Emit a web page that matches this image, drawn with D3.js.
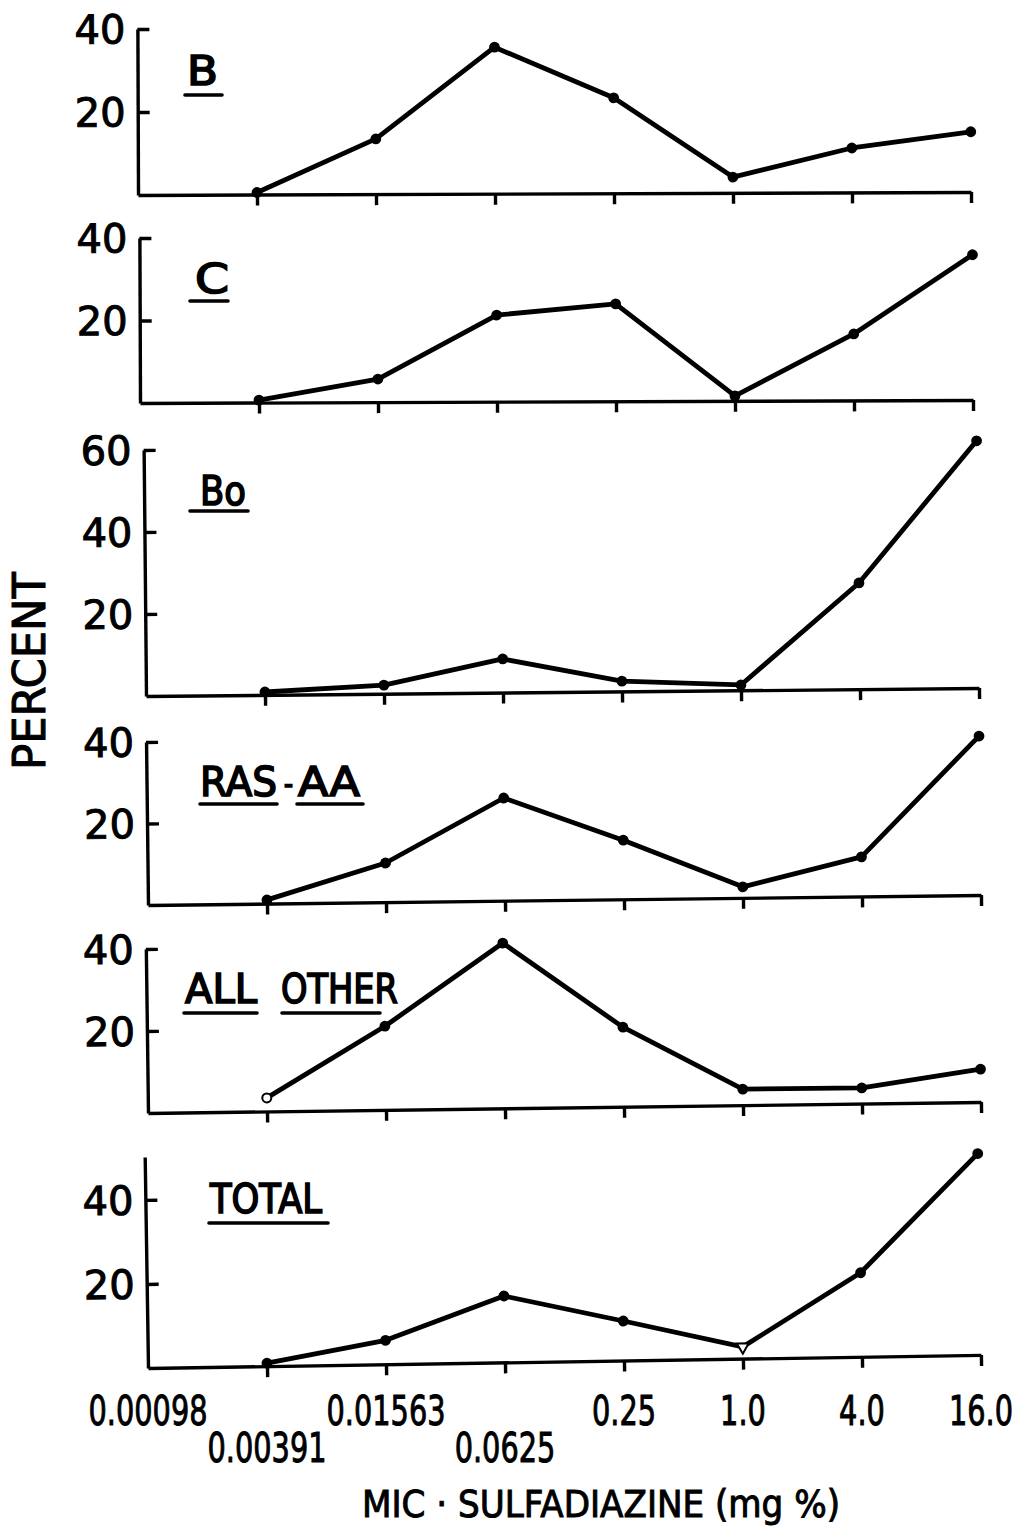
<!DOCTYPE html>
<html>
<head>
<meta charset="utf-8">
<script src="https://cdn.jsdelivr.net/npm/d3@7"></script>
<style>
  html, body { margin: 0; padding: 0; background: #fff; }
  svg { display: block; }
  text { font-family: "DejaVu Sans", sans-serif; fill: #000; }
  .thick { stroke: #000; stroke-width: 1; }
  .title { stroke: #000; stroke-width: 1.7; }
</style>
</head>
<body>
<svg id="chart" width="1034" height="1533"></svg>
<script>
// ---------------- data ----------------
const categories = ["0.00098", "0.00391", "0.01563", "0.0625", "0.25", "1.0", "4.0", "16.0"];
const tickRow    = [0, 1, 0, 1, 0, 0, 0, 0];   // which label line each x tick label sits on

const panelNames = ["B", "C", "Bo", "RAS - AA", "ALL OTHER", "TOTAL"];
const seriesB      = [null, 0.5, 13.3, 35.3, 23.0, 3.8, 10.7, 14.5];
const seriesC      = [null, 0.6,  5.6, 21.0, 23.6, 1.2, 16.1, 35.2];
const seriesBo     = [null, 0.7,  2.1,  8.2,  2.5, 1.3, 25.9, 60.3];
const seriesRASAA  = [null, 0.9,  9.6, 25.2, 14.5, 2.7,  9.7, 39.0];
const seriesOther  = [null, 3.3, 20.4, 40.3, 19.4, 3.9,  3.8,  8.0];
const seriesTotal  = [null, 0.7,  5.7, 15.8,  9.4, 2.8, 20.0, 47.9];
const seriesList = [seriesB, seriesC, seriesBo, seriesRASAA, seriesOther, seriesTotal];

const yTicksList = [[20, 40], [20, 40], [20, 40, 60], [20, 40], [20, 40], [20, 40]];
const yMaxList   = [40, 40, 60, 40, 40, 50.2];

const xTitle = "MIC \u00B7 SULFADIAZINE (mg %)";
const yTitle = "PERCENT";

// ---------------- layout (positions / styles only) ----------------
const plotW = 833;
const panelLayout = [
  { ax: 138, base: 195,  deg: 0.21, h: 166 },
  { ax: 140, base: 403,  deg: 0.21, h: 165 },
  { ax: 146, base: 696,  deg: 0.55, h: 246 },
  { ax: 148, base: 905,  deg: 0.69, h: 163 },
  { ax: 148, base: 1113, deg: 0.76, h: 164 },
  { ax: 148, base: 1368, deg: 0.90, h: 211 }
];
// panel titles: word pieces (split from panelNames) with position/width, underline extent
const titleLayout = [
  { y: 85,   ul: 95,   pieces: [{ x: 187, w: 31, u: [185, 222] }] },
  { y: 293,  ul: 301,  pieces: [{ x: 195, w: 34, u: [190, 228] }] },
  { y: 505,  ul: 511,  pieces: [{ x: 200, w: 46, u: [190, 248] }] },
  { y: 796,  ul: 804,  pieces: [{ x: 200, w: 77, u: [200, 277] },
                                { x: 284, w: 9, u: null, fs: 28, dy: -2 },
                                { x: 298, w: 62, u: [297, 363] }] },
  { y: 1003, ul: 1013, pieces: [{ x: 185, w: 72, u: [184, 257] },
                                { x: 281, w: 117, u: [282, 380] }] },
  { y: 1213, ul: 1223, pieces: [{ x: 210, w: 112, u: [209, 328] }] }
];
// special marker styles (panel index, point index, kind)
const specialMarkers = [
  { p: 4, i: 1, kind: "opencircle" },
  { p: 5, i: 5, kind: "opentriangle" }
];

const svg = d3.select("#chart");
const x = d3.scalePoint().domain(categories).range([0, plotW]);

panelLayout.forEach((L, p) => {
  const g = svg.append("g")
    .attr("transform", `translate(${L.ax},${L.base}) rotate(${-L.deg})`);
  const y = d3.scaleLinear().domain([0, yMaxList[p]]).range([0, -L.h]);

  // x axis: baseline with downward ticks
  const xa = g.append("g")
    .call(d3.axisBottom(x).tickValues(categories.slice(1)).tickSize(11)
      .tickSizeOuter(0).tickFormat(""));
  xa.select(".domain").attr("stroke", "#000").attr("stroke-width", 3.4);
  xa.selectAll(".tick line").attr("stroke", "#000").attr("stroke-width", 3.4);

  // y axis: vertical with inward ticks
  const ya = g.append("g")
    .call(d3.axisRight(y).tickValues(yTicksList[p]).tickSize(12)
      .tickSizeOuter(0).tickFormat(""));
  ya.select(".domain").attr("stroke", "#000").attr("stroke-width", 3.4);
  ya.selectAll(".tick line").attr("stroke", "#000").attr("stroke-width", 3.4);

  // y tick labels
  g.selectAll(".ylab").data(yTicksList[p]).enter().append("text")
    .attr("class", "thick")
    .attr("x", -12).attr("y", d => y(d)).attr("dy", "0.36em")
    .attr("text-anchor", "end").attr("font-size", 40)
    .text(d => d);

  // data line
  const pts = seriesList[p].map((v, i) => ({ c: categories[i], v, i })).filter(d => d.v != null);
  const line = d3.line().x(d => x(d.c)).y(d => y(d.v));
  g.append("path").datum(pts).attr("d", line)
    .attr("fill", "none").attr("stroke", "#000").attr("stroke-width", 4.8)
    .attr("stroke-linejoin", "round").attr("stroke-linecap", "round");

  // markers
  pts.forEach(d => {
    const sp = specialMarkers.find(s => s.p === p && s.i === d.i);
    const cx = x(d.c), cy = y(d.v);
    if (!sp) {
      g.append("circle").attr("cx", cx).attr("cy", cy).attr("r", 5.4).attr("fill", "#000");
    } else if (sp.kind === "opencircle") {
      g.append("circle").attr("cx", cx).attr("cy", cy).attr("r", 4.5)
        .attr("fill", "#fff").attr("stroke", "#000").attr("stroke-width", 2);
    } else {
      g.append("path").attr("d", d3.symbol().type(d3.symbolTriangle).size(60)())
        .attr("transform", `translate(${cx},${cy}) rotate(180)`)
        .attr("fill", "#fff").attr("stroke", "#000").attr("stroke-width", 2);
    }
  });
});

// panel titles (one text per word) with underlines
titleLayout.forEach((T, p) => {
  const words = panelNames[p].split(" ");
  T.pieces.forEach((pc, k) => {
    svg.append("text").attr("class", "title")
      .attr("x", pc.x).attr("y", T.y + (pc.dy || 0))
      .attr("font-size", pc.fs || 40)
      .attr("textLength", pc.w).attr("lengthAdjust", "spacingAndGlyphs")
      .text(words[k]);
    if (pc.u) {
      svg.append("line").attr("x1", pc.u[0]).attr("x2", pc.u[1])
        .attr("y1", T.ul).attr("y2", T.ul)
        .attr("stroke", "#000").attr("stroke-width", 3.6).attr("stroke-linecap", "round");
    }
  });
});

// x tick labels (bottom)
const bottom = panelLayout[5];
const rowY = [1425, 1462];
categories.forEach((c, i) => {
  svg.append("text").attr("class", "thick")
    .attr("transform", `translate(${bottom.ax + x(c)},${rowY[tickRow[i]]}) scale(0.72,1)`)
    .attr("text-anchor", "middle").attr("font-size", 40)
    .text(c);
});

// axis titles
svg.append("text").attr("class", "thick").attr("x", 601).attr("y", 1517)
  .attr("text-anchor", "middle").attr("font-size", 37)
  .attr("textLength", 478).attr("lengthAdjust", "spacingAndGlyphs")
  .text(xTitle);

svg.append("text").attr("class", "thick").attr("transform", "translate(45,671) rotate(-90)")
  .attr("text-anchor", "middle").attr("font-size", 44)
  .attr("textLength", 198).attr("lengthAdjust", "spacingAndGlyphs")
  .text(yTitle);
</script>
</body>
</html>
